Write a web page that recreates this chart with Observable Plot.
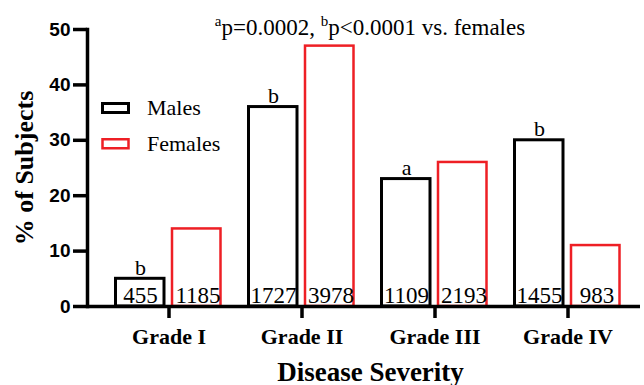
<!DOCTYPE html>
<html>
<head>
<meta charset="utf-8">
<script src="https://cdn.jsdelivr.net/npm/d3@7"></script>
<script src="https://cdn.jsdelivr.net/npm/@observablehq/plot@0.6"></script>
<style>
  body { margin: 0; background: #fff; }
  #chart { width: 644px; height: 385px; position: relative; }
  svg { background: #fff; overflow: visible; }
  g[aria-label="y-axis tick label"] text { font-weight: bold; }
  g[aria-label="x-axis tick label"] text { font-weight: bold; }
</style>
</head>
<body>
<div id="chart"></div>
<script>
const grades = ["Grade I", "Grade II", "Grade III", "Grade IV"];
const malesPct = [5, 36, 23, 30];
const femalesPct = [14, 47, 26, 11];
const malesN = [455, 1727, 1109, 1455];
const femalesN = [1185, 3978, 2193, 983];
const malesSig = ["b", "b", "a", "b"];
const yTicks = [0, 10, 20, 30, 40, 50];
const seriesNames = ["Males", "Females"];
const yLabel = "% of Subjects";
const xLabel = "Disease Severity";

const RED = "#ee1f25";
const SERIF = "Liberation Serif, Times New Roman, serif";
const SANS = "Liberation Sans, Arial, sans-serif";

const males = grades.map((g, i) => ({grade: g, value: malesPct[i], n: malesN[i], sig: malesSig[i]}));
const females = grades.map((g, i) => ({grade: g, value: femalesPct[i], n: femalesN[i]}));

const chart = Plot.plot({
  width: 644,
  height: 385,
  marginTop: 29,
  marginBottom: 79,
  marginLeft: 87,
  marginRight: 4,
  style: {background: "#fff", color: "#000"},
  x: {domain: grades, range: [100.5, 634.5], padding: 0, label: null},
  y: {domain: [0, 50], label: null},
  marks: [
    Plot.barY(males, {x: "grade", y: "value", fill: "white", stroke: "#000", strokeWidth: 3, insetLeft: 13.5, insetRight: 71}),
    Plot.barY(females, {x: "grade", y: "value", fill: "white", stroke: RED, strokeWidth: 2.5, insetLeft: 70, insetRight: 14.5}),
    Plot.text(males, {x: "grade", y: 0, text: d => String(d.n), dx: -28.5, dy: -4, lineAnchor: "bottom", fontSize: 23, fontFamily: SERIF, fill: "#000"}),
    Plot.text(females, {x: "grade", y: 0, text: d => String(d.n), dx: 29, dy: -4, lineAnchor: "bottom", fontSize: 23, fontFamily: SERIF, fill: "#000"}),
    Plot.text(males, {x: "grade", y: "value", text: "sig", dx: -28.5, dy: -4, lineAnchor: "bottom", fontSize: 22, fontFamily: SERIF, fill: "#000"}),
    Plot.ruleY([0], {stroke: "#000", strokeWidth: 3.5}),
    Plot.frame({anchor: "left", stroke: "#000", strokeWidth: 3.5, strokeLinecap: "square"}),
    Plot.axisY({ticks: yTicks, tickSize: 14, tickPadding: 3, strokeWidth: 3.5, fontSize: 19, fontFamily: SANS, fontWeight: "bold", label: null}),
    Plot.axisX({tickSize: 12, tickPadding: 10, strokeWidth: 3.5, fontSize: 22, fontFamily: SERIF, fontWeight: "bold", label: null}),
    Plot.text([xLabel], {frameAnchor: "bottom", textAnchor: "middle", dx: 6.5, dy: 74, lineAnchor: "bottom", fontSize: 27, fontWeight: "bold", fontFamily: SERIF, fill: "#000"}),
    Plot.text([yLabel], {frameAnchor: "left", textAnchor: "middle", lineAnchor: "middle", rotate: -90, dx: -63, fontSize: 26, fontWeight: "bold", fontFamily: SERIF, fill: "#000"})
  ]
});

document.getElementById("chart").appendChild(chart);

const svg = d3.select(chart);

// Annotation with superscripts
const ann = svg.append("text")
  .attr("x", 370).attr("y", 35)
  .attr("text-anchor", "middle")
  .attr("font-family", SERIF)
  .attr("font-size", 23)
  .attr("fill", "#000");
ann.append("tspan").attr("font-size", 15).attr("dy", -9).text("a");
ann.append("tspan").attr("dy", 9).text("p=0.0002, ");
ann.append("tspan").attr("font-size", 15).attr("dy", -9).text("b");
ann.append("tspan").attr("dy", 9).text("p<0.0001 vs. females");

// Legend
const legendColors = ["#000", RED];
const legendWidths = [3, 2.5];
const legendTops = [103.5, 139.25];
const lg = svg.append("g").attr("text-anchor", "start");
seriesNames.forEach((name, i) => {
  lg.append("rect")
    .attr("x", 102.5).attr("y", legendTops[i])
    .attr("width", 26).attr("height", 9)
    .attr("fill", "white").attr("stroke", legendColors[i]).attr("stroke-width", legendWidths[i]);
  lg.append("text")
    .attr("x", 147).attr("y", legendTops[i] + 11.5)
    .attr("text-anchor", "start")
    .attr("font-family", SERIF).attr("font-size", 22).attr("fill", "#000")
    .text(name);
});
</script>
</body>
</html>
